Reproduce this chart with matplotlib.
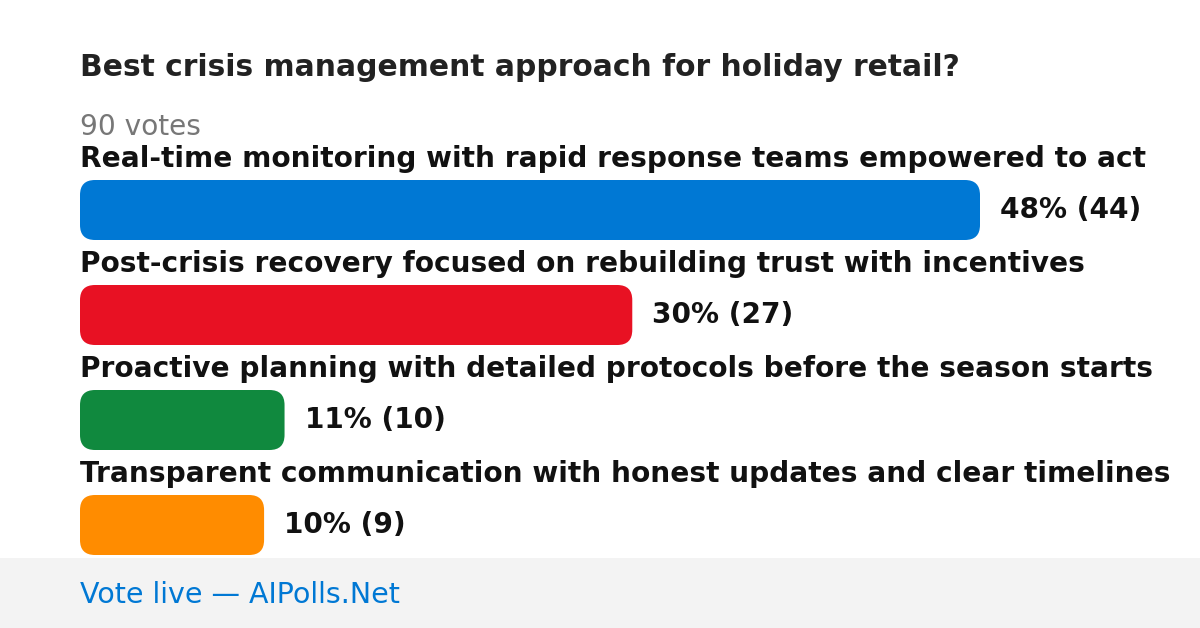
import matplotlib
matplotlib.use("Agg")
from matplotlib import pyplot as plt
from matplotlib.patches import FancyBboxPatch, Rectangle

plt.rcParams["font.family"] = ["DejaVu Sans"]

# poll data
title = "Best crisis management approach for holiday retail?"
total_votes = 90
options = [
    "Real-time monitoring with rapid response teams empowered to act",
    "Post-crisis recovery focused on rebuilding trust with incentives",
    "Proactive planning with detailed protocols before the season starts",
    "Transparent communication with honest updates and clear timelines",
]
votes = [44, 27, 10, 9]
percents = [48, 30, 11, 10]
colors = ["#0078d4", "#e81123", "#10893e", "#ff8c00"]

W, H = 1200, 628
fig = plt.figure(figsize=(W / 100, H / 100), dpi=100)
ax = fig.add_axes([0, 0, 1, 1])
ax.set_xlim(0, W)
ax.set_ylim(H, 0)
ax.set_aspect("equal")
ax.axis("off")

fs = 20.2
left = 80
max_width = 900
row_step = 105
first_label_y = 159
bar_h = 60

ax.text(left, 68, title, fontsize=21.4, fontweight="bold", color="#222222", va="center")
ax.text(left, 127, f"{total_votes} votes", fontsize=fs, color="#777777", va="center")

for i, (opt, v, p, c) in enumerate(zip(options, votes, percents, colors)):
    ly = first_label_y + i * row_step
    ax.text(left, ly, opt, fontsize=fs, fontweight="bold", color="#111111", va="center")
    bw = v / max(votes) * max_width
    by = ly + 21
    bar = FancyBboxPatch((left, by), bw, bar_h,
                         boxstyle="round,pad=0,rounding_size=15",
                         fc=c, ec="none")
    ax.add_patch(bar)
    ax.text(left + bw + 20, by + bar_h / 2, f"{p}% ({v})", fontsize=fs,
            fontweight="bold", color="#111111", va="center")

# footer band
ax.add_patch(Rectangle((0, 558), W, H - 558, fc="#f3f3f3", ec="none"))
ax.text(left, 595, "Vote live \u2014 AIPolls.Net", fontsize=20.5, color="#0078d4", va="center")

fig.savefig("out.png", dpi=100)
